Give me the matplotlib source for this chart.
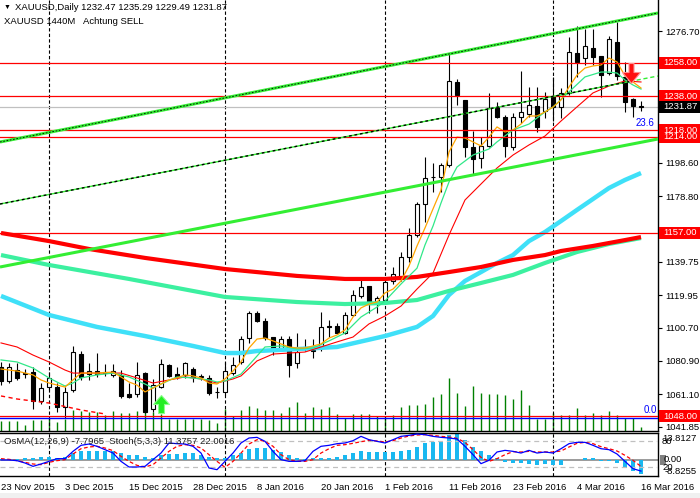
import numpy as np
import matplotlib
matplotlib.use("Agg")
import matplotlib.pyplot as plt
import matplotlib.transforms as mtransforms
from matplotlib.patches import Rectangle
from matplotlib.path import Path

plt.rcParams['font.family'] = ['Liberation Sans', 'DejaVu Sans']
plt.rcParams['font.size'] = 6.8

# ---------------- data ----------------
OPEN = [1077.3,1069.0,1075.5,1073.7,1074.3,1057.1,1065.4,1065.4,1053.5,1063.6,
        1085.0,1073.1,1074.9,1074.3,1072.6,1072.6,1061.3,1061.3,1073.7,1052.4,
        1065.4,1078.5,1073.1,1072.6,1076.1,1071.4,1070.8,1062.5,1062.5,1073.7,
        1080.3,1094.5,1109.4,1104.6,1095.1,1088.6,1093.9,1079.7,1089.2,1086.8,
        1088.6,1101.7,1101.7,1097.5,1108.2,1119.5,1125.4,1115.3,1117.1,1128.4,
        1129.6,1142.6,1155.7,1174.1,1190.2,1190.2,1197.3,1246.6,1235.9,1208.0,
        1201.4,1208.6,1231.7,1225.8,1208.0,1225.8,1227.6,1232.3,1229.4,1238.3,
        1231.7,1240.1,1263.8,1260.9,1266.8,1262.0,1251.9,1270.4,1249.6,1236.5,
        1232.47]
HIGH = [1080.3,1079.7,1079.7,1076.1,1077.3,1067.8,1074.3,1067.8,1065.4,1089.8,
        1086.8,1079.7,1085.6,1079.1,1079.1,1075.5,1067.8,1080.3,1074.3,1070.2,
        1082.1,1079.1,1077.3,1080.3,1077.3,1073.1,1072.6,1065.4,1080.3,1083.2,
        1095.7,1110.6,1110.6,1106.4,1095.1,1095.7,1095.7,1097.5,1093.9,1093.9,
        1110.0,1105.2,1103.4,1110.0,1123.0,1129.0,1125.4,1119.5,1129.6,1136.7,
        1145.6,1159.9,1175.3,1202.0,1198.5,1198.5,1263.8,1248.4,1235.9,1217.5,
        1213.9,1240.1,1234.7,1227.0,1228.2,1253.1,1243.6,1243.6,1240.7,1249.6,
        1243.0,1273.3,1279.9,1278.1,1278.1,1262.0,1273.9,1282.2,1258.5,1237.0,
        1235.29]
LOW = [1066.6,1067.8,1069.6,1070.8,1052.4,1055.3,1063.6,1050.6,1047.0,1062.5,
       1069.6,1069.6,1071.4,1072.0,1071.4,1058.9,1059.0,1059.5,1050.0,1050.6,
       1064.8,1071.4,1070.2,1070.8,1068.4,1069.6,1060.7,1058.9,1060.7,1072.6,
       1079.1,1091.6,1104.0,1093.3,1084.4,1087.4,1071.4,1076.7,1086.8,1082.7,
       1086.8,1095.1,1096.9,1096.9,1107.6,1118.3,1109.4,1109.4,1116.5,1126.6,
       1128.4,1139.7,1154.5,1163.4,1181.3,1181.3,1196.1,1232.9,1202.0,1191.3,
       1195.5,1208.0,1225.2,1202.0,1206.2,1222.2,1225.8,1216.9,1225.2,1223.4,
       1225.2,1238.9,1249.6,1256.7,1256.7,1237.7,1250.8,1247.8,1228.8,1225.8,
       1229.49]
CLOSE = [1069.0,1077.3,1070.8,1073.4,1057.1,1064.8,1070.8,1053.5,1062.5,1086.2,
         1071.4,1074.9,1073.1,1074.0,1074.9,1060.1,1059.5,1072.6,1050.6,1066.6,
         1079.1,1072.0,1071.4,1079.7,1071.4,1072.0,1061.9,1062.2,1074.9,1078.5,
         1093.9,1109.4,1104.6,1094.5,1088.6,1093.9,1078.5,1086.2,1088.9,1087.1,
         1101.1,1100.8,1097.5,1108.2,1120.1,1124.8,1115.3,1118.3,1127.8,1132.5,
         1142.6,1155.7,1174.1,1189.6,1189.9,1197.3,1247.2,1238.9,1208.0,1200.9,
         1208.6,1231.1,1225.8,1208.6,1225.8,1228.8,1232.9,1219.9,1236.5,1231.7,
         1240.1,1264.4,1258.5,1268.0,1261.4,1250.8,1272.1,1250.2,1234.7,1232.3,
         1231.87]
VOLUME_K = [10,10,10,6,11,11,13.5,9,12.5,21,
            20,19,19,16,20,18,18.5,20,21,19,
            17.5,12,12,12,12,12,11,8,22,15,
            21,25,23,21,21,18.5,24,29,18.5,24,
            22.5,24,17.5,13,17,17,17,15.5,14,16,
            24,26,26,27,34,37,53,38,25,45,
            38,37,37,36,32,41,26,12,12,18,
            16,16,23,16,18,16,20,16,13,13,
            4]

MA_ORANGE_BARS = [0,2,4,5,6,7,8,9,10,12,14,15,16,17,18,19,20,21,22,23,24,25,26,27,28,29,
                  30,31,32,33,34,35,36,37,38,40,41,42,43,44,45,46,47,48,49,50,51,52,53,54,
                  55,56,57,58,59,60,61,62,63,64,65,66,67,68,69,70,71,72,73,74,75,76,77,78,79,80]
MA_ORANGE = [1076.1,1074.9,1072.6,1069.6,1067.8,1066.6,1065.4,1069.6,1073.7,1073.7,1074.3,
             1071.4,1068.4,1066.6,1062.5,1064.8,1067.2,1069.6,1070.8,1072.6,1072.0,1070.8,
             1067.8,1067.2,1070.2,1074.9,1080.3,1088.6,1093.9,1094.5,1092.8,1091.0,1089.2,
             1088.6,1088.6,1091.0,1094.5,1096.3,1099.3,1107.0,1112.4,1114.7,1115.9,1121.3,
             1123.6,1128.4,1137.3,1149.2,1159.9,1171.2,1182.4,1205.0,1213.9,1213.3,1211.0,
             1208.6,1213.9,1219.9,1216.9,1218.1,1221.6,1226.4,1226.4,1228.8,1231.7,1235.9,
             1243.6,1250.7,1254.9,1256.1,1256.7,1260.8,1258.5,1250.2,1246.6,1243.0]

MA_GREEN_BARS = [0,2,4,6,8,9,10,12,14,16,18,19,20,22,24,26,27,28,30,32,33,35,37,39,41,43,
                 45,47,48,50,52,53,54,55,56,57,59,61,62,64,66,68,69,71,73,75,76,77,78,79,80]
MA_GREEN = [1081.5,1080.3,1076.7,1070.8,1066.0,1067.8,1070.8,1072.6,1073.7,1071.4,1067.2,
            1064.8,1067.2,1071.4,1070.8,1069.6,1068.4,1069.0,1073.1,1083.8,1089.2,1089.8,
            1088.0,1088.6,1092.8,1097.5,1107.0,1112.9,1116.5,1126.6,1136.0,1149.8,1161.0,
            1174.7,1187.2,1196.1,1203.2,1206.8,1211.0,1218.1,1221.6,1228.8,1231.7,1240.7,
            1249.6,1252.5,1252.5,1251.9,1247.8,1244.8,1242.4]

MA_RED_BARS = [0,2,4,6,8,9,12,15,17,19,21,23,25,27,29,30,32,34,36,38,40,42,44,46,48,50,
               52,54,55,56,58,60,62,64,66,68,70,72,74,76,78,80]
MA_RED = [1091.6,1089.2,1084.4,1080.3,1075.5,1073.7,1073.7,1073.7,1070.8,1067.8,1069.6,
          1071.4,1070.2,1067.8,1070.2,1072.0,1080.9,1085.0,1085.6,1086.2,1089.2,1092.2,
          1095.1,1102.9,1107.6,1113.5,1123.6,1133.1,1144.4,1155.7,1176.5,1186.0,1195.5,
          1203.2,1209.2,1214.5,1223.4,1231.8,1240.1,1244.2,1247.2,1246.6]

MA_CYAN_BARS = [0,6,12,18,24,28,30,32,36,42,48,52,54,56,58,60,62,64,66,68,70,72,74,76,78,80]
MA_CYAN = [1119.5,1108.2,1101.1,1095.7,1089.8,1085.6,1085.6,1086.8,1087.7,1089.2,1095.7,
           1101.1,1107.6,1120.1,1128.4,1133.7,1139.1,1143.8,1152.1,1157.5,1164.0,1170.6,
           1177.1,1183.6,1188.4,1192.5]

MA_SLOW_RED_BARS = [0,6,11,18,28,37,43,48,52,56,60,64,68,70,74,78,80]
MA_SLOW_RED = [1156.9,1152.1,1147.4,1142.1,1135.5,1131.4,1129.6,1129.6,1130.8,1133.7,
               1136.7,1140.9,1143.8,1146.2,1149.2,1152.7,1154.5]

MA_SLOW_GREEN_BARS = [0,6,16,28,37,43,48,52,56,60,64,68,72,76,80]
MA_SLOW_GREEN = [1143.8,1137.9,1129.6,1118.9,1115.9,1114.7,1115.3,1117.1,1122.5,1127.2,
                 1132.0,1139.1,1145.6,1150.4,1153.9]

RED_DASH_BARS = [0,2,6,10,13]
RED_DASH = [1060.1,1058.3,1055.9,1051.8,1049.4]

TREND_X = [-0.125, 82.125]
TREND_UPPER = [1210.95, 1287.57]
TREND_MIDDLE = [1174.12, 1250.15]
TREND_LOWER = [1136.70, 1212.73]
MIDDLE_SOLID_END = 78.6

RED_LEVELS = [1258.00, 1238.00, 1218.00, 1214.00, 1157.00, 1048.00]
FIB_ZERO_LINE = 1047.3
LAST_PRICE = 1231.87
PRICE_TICKS = [1276.70, 1198.60, 1178.80, 1139.75, 1119.95, 1100.70, 1080.90, 1061.10, 1041.85]

ARROW_UP = (20, 1055.4)
ARROW_DOWN = (78.7, 1252.0)

MONTH_START_BARS = [6, 28, 48, 69]
DATE_BARS = [0, 8, 16, 24, 32, 40, 48, 56, 64, 72, 80]
DATE_LABELS = ['23 Nov 2015', '3 Dec 2015', '15 Dec 2015', '28 Dec 2015', '8 Jan 2016',
               '20 Jan 2016', '1 Feb 2016', '11 Feb 2016', '23 Feb 2016', '4 Mar 2016',
               '16 Mar 2016']

OSMA = [0.1,0.2,0.3,0.7,1.0,1.2,1.6,1.0,1.6,3.4,
        4.3,4.6,4.6,4.6,4.3,3.4,2.5,2.5,1.2,1.0,
        2.5,2.8,3.2,3.4,3.4,2.5,1.5,1.0,0.7,2.5,
        3.4,5.7,6.4,6.0,5.0,3.9,2.5,1.0,0.4,0.7,
        1.0,1.0,1.4,2.5,3.4,4.3,3.9,3.9,3.9,3.9,
        4.6,5.1,6.6,8.7,9.2,9.6,13.1,13.81,10.5,6.9,
        4.3,2.5,0.7,-1.1,-1.8,-2.1,-2.5,-2.8,-2.5,-2.8,
        -2.8,-0.5,-0.4,0.7,0.7,-0.7,-0.7,-2.1,-4.3,-6.4,
        -7.7965]
STOCH_MAIN = [36.9,36.9,35.4,30.0,22.3,27.7,33.8,40.0,40.0,56.9,
              70.8,73.8,68.5,60.8,53.0,33.8,20.8,20.8,22.3,37.7,
              53.0,76.2,74.6,73.8,68.5,53.0,18.5,14.6,33.8,53.0,
              76.2,87.7,89.2,80.0,56.9,37.7,33.8,33.8,35.4,56.9,
              68.5,70.8,74.6,76.2,81.5,91.5,83.8,80.0,76.2,83.8,
              91.5,93.8,96.9,95.4,91.5,89.2,87.7,85.4,68.5,49.2,
              28.5,36.2,55.4,59.2,56.9,53.0,59.2,53.0,55.4,53.0,
              63.0,74.6,77.7,77.7,70.8,63.0,60.8,50.8,33.8,16.9,
              11.3757]
STOCH_SIGNAL = [40.0,38.5,35.4,31.5,27.7,26.2,31.5,35.4,37.7,50.8,
                63.0,67.0,68.5,64.6,58.5,45.4,33.8,24.6,20.8,26.2,
                41.5,56.9,68.5,72.3,70.8,64.6,49.2,33.8,20.0,33.8,
                53.0,73.8,83.8,80.0,68.5,49.2,37.7,33.8,33.8,37.7,
                53.0,63.0,70.8,72.3,75.4,79.2,82.3,80.8,78.5,81.5,
                87.7,92.3,94.6,95.4,93.8,91.5,90.0,86.9,77.7,60.8,
                43.1,33.8,40.0,49.2,56.2,55.4,56.9,55.4,55.4,55.4,
                57.7,66.9,75.4,77.7,74.6,67.7,63.0,57.7,47.7,36.2,
                22.0016]
OSMA_MAX, OSMA_MIN = 13.8127, -8.8255

# ---------------- layout ----------------
W, H = 700.0, 498.0
def fx(p): return p / W
def fy(p): return 1.0 - p / H

MAIN_BOTTOM = 431.0
AXIS_RIGHT = 658.0
IND_TOP, IND_BOTTOM = 432.5, 476.0
PRICE_LIM = (1039.29, 1295.29)
XLIM = (-0.125, 82.125)

fig = plt.figure(figsize=(7.0, 4.98), dpi=100)
fig.patch.set_facecolor('white')

ax = fig.add_axes([0.0, fy(MAIN_BOTTOM), fx(AXIS_RIGHT), MAIN_BOTTOM / H])
axv = ax.twinx()
axv.set_zorder(ax.get_zorder() - 1)
ax.patch.set_visible(False)
ax.yaxis.tick_right()
ax.set_xlim(*XLIM)
ax.set_ylim(*PRICE_LIM)

bars = np.arange(len(CLOSE))
o = np.array(OPEN); h = np.array(HIGH); l = np.array(LOW); c = np.array(CLOSE)

# volume
axv.vlines(bars, 0, VOLUME_K, colors='#008000', lw=1.0)
axv.set_ylim(0, MAIN_BOTTOM)
axv.set_yticks([])
for s in axv.spines.values():
    s.set_visible(False)

# month grid
for b in MONTH_START_BARS:
    ax.axvline(b, color='black', lw=0.8, ls=(0, (3, 2)), zorder=1)

ax.axhline(LAST_PRICE, color='#c0c0c0', lw=0.9, zorder=1.5)

# candles
ax.vlines(bars, l, h, colors='black', lw=0.8, zorder=3)
body_bottom = np.minimum(o, c)
body_h = np.maximum(np.abs(c - o), 0.45)
fill = ['white' if cc >= oo else 'black' for oo, cc in zip(o, c)]
ax.bar(bars, body_h, bottom=body_bottom, width=0.6, color=fill, edgecolor='black',
       linewidth=0.8, zorder=3.5)

# moving averages
ax.plot(MA_CYAN_BARS, MA_CYAN, color='#3fe0f8', lw=3.2, zorder=4, solid_capstyle='butt')
ax.plot(MA_SLOW_GREEN_BARS, MA_SLOW_GREEN, color='#3cf0a0', lw=3.0, zorder=4, solid_capstyle='butt')
ax.plot(MA_SLOW_RED_BARS, MA_SLOW_RED, color='#ff0000', lw=3.0, zorder=4.1, solid_capstyle='butt')
ax.plot(MA_RED_BARS, MA_RED, color='#ff0000', lw=0.8, zorder=5)
ax.plot(MA_GREEN_BARS, MA_GREEN, color='#30e888', lw=0.9, zorder=5)
ax.plot(MA_ORANGE_BARS, MA_ORANGE, color='#ffa500', lw=0.9, zorder=5.1)
ax.plot(RED_DASH_BARS, RED_DASH, color='#ff0000', lw=1.0, ls=(0, (3, 2.5)), zorder=5)

# horizontal levels
for lv in RED_LEVELS:
    ax.axhline(lv, color='#ff0000', lw=0.9, zorder=6)
ax.axhline(FIB_ZERO_LINE, color='#0000ff', lw=1.0, zorder=6)

# trend channel
ax.plot(TREND_X, TREND_LOWER, color='#33ee33', lw=2.2, zorder=7, solid_capstyle='butt')
ax.plot(TREND_X, TREND_UPPER, color='#33ee33', lw=2.2, zorder=7, solid_capstyle='butt')
ax.plot(TREND_X, TREND_UPPER, color='black', lw=0.6, ls=(0, (2, 2)), zorder=7.1)
mid_end = np.interp(MIDDLE_SOLID_END, TREND_X, TREND_MIDDLE)
ax.plot([TREND_X[0], MIDDLE_SOLID_END], [TREND_MIDDLE[0], mid_end], color='#33ee33',
        lw=1.0, zorder=7)
ax.plot([TREND_X[0], MIDDLE_SOLID_END], [TREND_MIDDLE[0], mid_end], color='black',
        lw=1.0, ls=(0, (2, 2)), zorder=7.1)
ax.plot([MIDDLE_SOLID_END, TREND_X[1]], [mid_end, TREND_MIDDLE[1]], color='#33ee33',
        lw=1.0, ls=(0, (3, 2)), zorder=7)

# signal arrows
up_path = Path([(-0.33, -1), (0.33, -1), (0.33, 0), (0.89, 0), (0, 1), (-0.89, 0),
                (-0.33, 0), (-0.33, -1)],
               [Path.MOVETO] + [Path.LINETO] * 6 + [Path.CLOSEPOLY])
down_path = Path([(-0.25, 1), (0.25, 1), (0.25, 0.1), (0.9, 0.1), (0, -1), (-0.9, 0.1),
                  (-0.25, 0.1), (-0.25, 1)],
                 [Path.MOVETO] + [Path.LINETO] * 6 + [Path.CLOSEPOLY])
ax.plot([ARROW_UP[0]], [ARROW_UP[1]], marker=up_path, markersize=13, color='#22ee22',
        markeredgecolor='#8cff8c', markeredgewidth=0.8, zorder=12, ls='none')
ax.plot([ARROW_DOWN[0]], [ARROW_DOWN[1]], marker=down_path, markersize=14.4, color='#ff1010',
        markeredgecolor='#ff9090', markeredgewidth=0.8, zorder=12, ls='none')

# fibo texts
trf = mtransforms.blended_transform_factory(ax.transAxes, ax.transData)
ax.text(654 / AXIS_RIGHT, 1222.3, '23.6', transform=trf, color='#0000ff', ha='right',
        va='center', fontsize=7)
ax.text(657 / AXIS_RIGHT, 1051.5, '0.0', transform=trf, color='#0000ff', ha='right',
        va='center', fontsize=7)

# axis styling
for s in ['left', 'top']:
    ax.spines[s].set_visible(False)
for s in ['right', 'bottom']:
    ax.spines[s].set_linewidth(1.0)
ax.set_yticks(PRICE_TICKS)
ax.set_yticklabels([f'{v:.2f}' for v in PRICE_TICKS])
ax.tick_params(axis='y', which='both', direction='out', length=3, width=0.8, pad=2,
               labelsize=6.8, right=True, left=False, labelright=True, labelleft=False)
ax.tick_params(axis='x', bottom=False, labelbottom=False)

# boxed price labels on the right
px_per_unit = MAIN_BOTTOM / (PRICE_LIM[1] - PRICE_LIM[0])
box_h = 12.0 / px_per_unit
tr = mtransforms.blended_transform_factory(ax.transAxes, ax.transData)
box_x0 = 659.0 / AXIS_RIGHT
box_w = (W - 659.0) / AXIS_RIGHT
labels = [(lv, '#ff0000') for lv in RED_LEVELS] + [(LAST_PRICE, 'black')]
for price, col in labels:
    ax.add_patch(Rectangle((box_x0, price - box_h / 2), box_w, box_h, transform=tr,
                           facecolor=col, edgecolor='none', clip_on=False, zorder=20))
    ax.text(663.0 / AXIS_RIGHT, price, f'{price:.2f}', transform=tr, color='white',
            ha='left', va='center', fontsize=6.8, zorder=21, clip_on=False)

# ---------------- indicator panel ----------------
axi = fig.add_axes([0.0, fy(IND_BOTTOM), fx(AXIS_RIGHT), (IND_BOTTOM - IND_TOP) / H])
axs = axi.twinx()
axi.set_xlim(*XLIM)
zero_px = 459.5
osma_scale = (IND_BOTTOM - zero_px) / (-OSMA_MIN)
axi.set_ylim(OSMA_MIN, (zero_px - IND_TOP) / osma_scale)
axs.set_ylim(0, 100.4)

for b in MONTH_START_BARS:
    axi.axvline(b, color='black', lw=0.8, ls=(0, (3, 2)), zorder=1)
axi.axhline(0, color='#808080', lw=1.1, zorder=1.5)
axi.bar(bars, OSMA, width=0.45, color='#1ab8f0', zorder=2)
axs.axhline(80, color='#c0c0c0', lw=0.9, ls=(0, (4, 3)), zorder=1)
axs.axhline(20, color='#c0c0c0', lw=0.9, ls=(0, (4, 3)), zorder=1)
axs.plot(bars, STOCH_SIGNAL, color='#ff0000', lw=0.9, ls=(0, (3, 2)), zorder=3)
axs.plot(bars, STOCH_MAIN, color='#0000ff', lw=0.9, zorder=4)

for a in (axi, axs):
    a.set_yticks([])
for s in axs.spines.values():
    s.set_visible(False)
axi.spines['left'].set_visible(False)
for s in ['top', 'bottom', 'right']:
    axi.spines[s].set_linewidth(1.0)

axi.set_xticks(DATE_BARS)
axi.set_xticklabels(DATE_LABELS, ha='left')
axi.tick_params(axis='x', length=0, pad=5, labelsize=6.8)

tro = mtransforms.blended_transform_factory(axi.transAxes, axi.transData)
trs = mtransforms.blended_transform_factory(axi.transAxes, axs.transData)
lx = 662.0 / AXIS_RIGHT
axi.text(lx, OSMA_MAX, f'{OSMA_MAX:.4f}', transform=tro, ha='left', va='top',
         fontsize=6.8, clip_on=False)
axs.text(lx, 80, '80', transform=trs, ha='left', va='center', fontsize=6.8, clip_on=False)
axs.text(lx, 20, '20', transform=trs, ha='left', va='center', fontsize=6.8, clip_on=False)
axi.text(lx + 3 / AXIS_RIGHT, OSMA_MIN, f'{OSMA_MIN:.4f}', transform=tro, ha='left',
         va='bottom', fontsize=6.8, clip_on=False)
axi.add_patch(Rectangle((660.0 / AXIS_RIGHT, -5.0 / osma_scale), 6.0 / AXIS_RIGHT,
                        10.0 / osma_scale, transform=tro, facecolor='#808080',
                        edgecolor='none', clip_on=False, zorder=5))
axi.text(lx + 2 / AXIS_RIGHT, 0, '0.00', transform=tro, ha='left', va='center',
         fontsize=6.8, clip_on=False, zorder=6)

# ---------------- header texts ----------------
fig.text(fx(4), fy(7.5), '\u25bc', fontsize=5, va='center', ha='left')
fig.text(fx(15), fy(7.5), 'XAUUSD,Daily 1232.47 1235.29 1229.49 1231.87', va='center', ha='left')
fig.text(fx(4), fy(21), 'XAUUSD 1440M', va='center', ha='left')
fig.text(fx(83), fy(21), 'Achtung SELL', va='center', ha='left')
fig.text(fx(4), fy(441.5), 'OsMA(12,26,9) -7.7965  Stoch(5,3,3) 11.3757 22.0016',
         va='center', ha='left', color='#202020')

fig.patches.append(Rectangle((0, 0), 1, 5.0 / H, transform=fig.transFigure,
                             facecolor='#f0f0f0', edgecolor='none', zorder=0))

fig.savefig('out.png', dpi=100)
